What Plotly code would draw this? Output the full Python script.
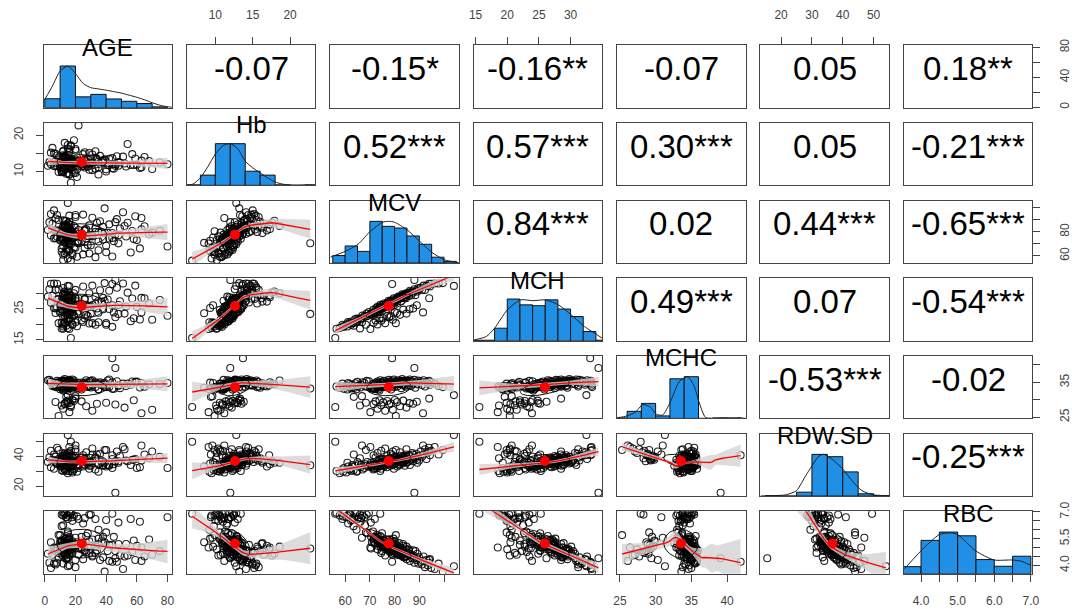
import numpy as np
import plotly.graph_objects as go

VAR_NAMES = ["AGE", "Hb", "MCV", "MCH", "MCHC", "RDW.SD", "RBC"]

# ---- observations (estimated from the scatter panels) ----
AGE = [12, 15, 33, 44, 18, 25, 29, 56, 11, 16, 35, 14, 62, 19, 12, 28, 17, 48, 15, 22, 10, 38, 14, 20, 17,
       14, 11, 40, 16, 13, 24, 12, 58, 17, 15, 31, 19, 46, 13, 70, 18, 7, 27, 15, 52, 16, 34, 14, 63, 20, 9,
       21, 13, 35, 16, 60, 14, 12, 27, 6, 44, 15, 19, 11, 53, 17, 4, 30, 16, 68, 13,
       24, 15, 41, 12, 18, 33, 8, 57, 17, 2, 26, 15, 49, 13, 20, 16, 38, 12, 65, 19,
       14, 29, 17, 42, 5, 15, 54, 3, 16, 36, 13, 12, 9, 47, 7, 31, 20, 59, 16, 8,
       25, 4, 51, 6, 39,
       46, 44, 22, 15,
       14, 11, 17, 9, 15, 13, 19, 16, 12, 8, 18, 14, 10, 15, 13, 17, 7, 16, 12, 14,
       20, 11, 15, 18, 13, 24, 28, 33, 37, 42, 26, 31, 45, 22, 39, 14, 16, 12, 10, 17,
       75, 63, 48, 35, 29, 15, 13, 19, 11, 16,
       21, 13, 40, 16, 26, 12, 80, 18, 30, 15]
Hb = [10.2, 9.5, 10.8, 10.9, 11.2, 11.6, 10.5, 11.8, 9.8, 11.9, 9.2, 12.1, 11.0, 12.4, 11.5, 12.2, 12.8, 12.6, 11.3, 13.0, 12.0, 12.9, 13.4, 9.6, 6.9,
      9.4, 10.1, 10.6, 9.1, 10.9, 11.4, 10.2, 11.8, 11.0, 12.0, 10.4, 12.3, 11.6, 12.5, 10.7, 13.1, 12.8, 11.9, 13.4, 12.2, 13.0, 13.5, 13.8, 11.2, 13.3, 9.9,
      8.5, 10.6, 11.2, 9.3, 11.9, 12.4, 10.9, 12.8, 11.5, 12.1, 11.7, 9.7, 12.6, 11.4, 13.2, 12.0, 13.6, 11.1, 12.9, 14.1,
      12.3, 16.3, 11.8, 14.5, 12.7, 15.6, 12.2, 14.8, 16.9, 11.6, 15.3, 17.3, 12.5, 14.2, 16.2, 13.3, 12.9, 15.7, 14.0, 18.6,
      13.8, 15.1, 17.2, 13.5, 16.5, 14.6, 17.6, 12.6, 16.0, 14.3, 17.9, 15.5, 13.9, 14.2, 14.9, 14.7, 15.8, 13.6, 15.4, 14.4,
      14.8, 15.2, 14.1, 15.0, 13.2,
      12.0, 13.7, 22.7, 12.8,
      12.1, 11.4, 13.0, 12.6, 11.8, 13.5, 12.2, 10.9, 12.9, 11.6, 13.3, 12.4, 11.1, 12.8, 14.0, 12.0, 11.5, 13.6, 12.5, 10.7,
      12.7, 13.1, 11.9, 12.3, 14.3, 12.0, 11.3, 13.8, 12.6, 11.7, 13.2, 12.4, 10.8, 12.9, 13.4, 12.2, 11.2, 13.9, 12.7, 11.0,
      12.5, 13.0, 11.6, 12.8, 12.3, 13.7, 12.1, 11.5, 12.4, 13.1,
      10.6, 11.3, 10.0, 12.3, 11.1, 9.9, 12.0, 10.4, 12.5, 11.7]
MCV = [56.5, 57.8, 58.9, 59.5, 60.5, 61.2, 62.0, 62.8, 63.4, 64.1, 64.6, 65.5, 66.2, 67.0, 68.1, 69.0, 69.6, 70.4, 71.3, 72.0, 72.8, 73.5, 74.2, 66.8, 56.0,
       63.5, 66.0, 68.4, 70.2, 71.5, 72.3, 73.1, 73.9, 74.6, 75.4, 76.2, 77.0, 77.8, 78.5, 79.3, 80.1, 81.0, 82.2, 83.5, 84.8, 86.0, 87.5, 89.0, 91.5, 94.0, 80.5,
       70.8, 71.4, 72.0, 72.6, 73.1, 73.5, 73.9, 74.2, 74.5, 74.8, 74.9, 75.3, 75.7, 76.1, 76.5, 76.9, 77.3, 77.6, 77.9, 78.3,
       78.6, 78.9, 79.2, 79.5, 79.7, 79.9, 80.3, 80.7, 81.1, 81.5, 81.9, 82.3, 82.7, 83.1, 83.4, 83.8, 84.1, 84.4, 84.6, 84.8,
       84.9, 85.3, 85.8, 86.2, 86.7, 87.1, 87.5, 88.0, 88.4, 88.8, 89.2, 89.6, 89.9, 90.5, 91.1, 91.7, 92.3, 92.9, 93.4, 93.9,
       94.3, 94.8, 96.2, 97.8, 99.5,
       88.0, 79.0, 70.5, 104.0,
       76.2, 74.0, 79.5, 81.2, 72.8, 83.0, 77.4, 70.5, 80.6, 75.8, 78.7, 82.4, 73.6, 79.0, 84.7, 76.8, 74.9, 81.8, 78.1, 71.7,
       80.0, 77.7, 83.6, 75.1, 85.9, 78.4, 76.5, 82.9, 79.8, 74.4, 80.9, 77.0, 72.2, 81.5, 79.2, 80.3, 75.6, 84.0, 78.9, 73.3,
       80.8, 82.1, 77.2, 79.6, 76.0, 83.3, 78.8, 75.4, 81.0, 77.9,
       59.2, 61.8, 63.0, 64.9, 66.5, 60.9, 67.8, 62.4, 68.7, 65.0]
MCH = [18.6, 18.8, 19.9, 19.2, 20.0, 20.8, 20.3, 21.0, 20.5, 21.7, 20.7, 21.8, 21.6, 22.9, 22.5, 22.7, 24.0, 23.4, 23.0, 24.2, 23.8, 24.9, 25.3, 20.7, 15.6,
       19.6, 18.7, 19.9, 18.5, 20.5, 21.3, 20.0, 22.0, 21.2, 22.0, 20.4, 22.8, 22.3, 22.7, 21.5, 24.0, 23.7, 23.1, 24.8, 23.5, 24.9, 25.2, 26.2, 23.9, 28.5, 20.4,
       23.6, 24.7, 23.8, 25.3, 25.7, 25.2, 24.1, 26.4, 25.3, 26.2, 25.2, 26.2, 26.8, 25.8, 26.5, 27.0, 25.9, 27.7, 26.8, 27.6,
       25.9, 27.4, 28.1, 27.1, 28.5, 26.8, 28.0, 28.4, 27.4, 29.0, 28.3, 28.8, 27.5, 29.8, 28.5, 29.7, 28.6, 29.6, 28.5, 30.1,
       29.5, 30.1, 29.3, 30.9, 29.4, 30.7, 30.3, 31.4, 29.5, 31.1, 30.7, 31.8, 31.4, 31.9, 31.2, 32.6, 31.2, 32.6, 32.4, 33.2,
       32.3, 33.2, 33.3, 33.3, 33.4,
       34.4, 33.1, 23.4, 32.5,
       25.9, 24.9, 27.3, 28.3, 24.6, 29.3, 26.2, 23.5, 27.8, 25.5, 27.5, 28.6, 24.3, 27.4, 29.9, 26.4, 25.2, 28.9, 26.9, 23.8,
       27.6, 27.0, 28.8, 25.6, 30.4, 26.7, 25.8, 29.0, 27.3, 25.0, 28.1, 26.3, 23.9, 28.4, 27.6, 27.7, 25.6, 29.6, 27.2, 24.5,
       27.9, 28.6, 26.3, 27.6, 25.9, 29.4, 27.0, 25.4, 28.0, 27.1,
       19.4, 20.6, 20.4, 21.9, 22.0, 19.3, 22.8, 19.9, 23.5, 21.2]
MCHC = [33.8, 33.4, 34.6, 33.1, 33.9, 34.8, 33.7, 34.3, 33.3, 34.7, 33.0, 34.1, 33.5, 35.0, 33.8, 33.7, 35.3, 34.0, 33.2, 34.4, 33.6, 34.7, 34.9, 31.0, 27.9,
        30.8, 28.3, 29.1, 26.4, 28.7, 29.5, 27.4, 29.8, 28.4, 29.2, 26.8, 29.6, 28.6, 28.9, 27.1, 29.9, 29.3, 28.1, 29.7, 27.7, 29.0, 28.8, 29.4, 26.1, 30.3, 25.3,
        33.4, 34.6, 33.0, 34.9, 35.2, 34.3, 32.6, 35.6, 34.0, 35.0, 33.7, 34.8, 35.4, 33.9, 34.6, 35.1, 33.5, 35.7, 34.4, 35.3,
        32.9, 34.7, 35.5, 34.1, 35.8, 33.6, 34.9, 35.2, 33.8, 35.6, 34.5, 35.0, 33.3, 35.9, 34.2, 35.4, 34.0, 35.1, 33.7, 35.5,
        34.8, 35.3, 34.1, 35.8, 33.9, 35.2, 34.6, 35.7, 33.4, 35.0, 34.4, 35.5, 34.9, 35.3, 34.2, 35.6, 33.8, 35.1, 34.7, 35.4,
        34.3, 35.0, 34.6, 34.0, 33.6,
        39.1, 41.9, 33.2, 31.3,
        34.0, 33.6, 34.4, 34.9, 33.8, 35.3, 33.9, 33.3, 34.5, 33.7, 34.9, 34.7, 33.0, 34.7, 35.3, 34.4, 33.6, 35.3, 34.4, 33.2,
        34.5, 34.7, 34.4, 34.1, 35.4, 34.1, 33.7, 35.0, 34.2, 33.6, 34.7, 34.2, 33.1, 34.8, 34.8, 34.5, 33.9, 35.2, 34.5, 33.4,
        34.5, 34.8, 34.1, 34.7, 34.1, 35.3, 34.3, 33.7, 34.6, 34.8,
        33.9, 34.5, 33.6, 35.1, 34.2, 32.9, 34.8, 33.2, 35.4, 33.8]
RDW_SD = [30, 28.5, 31, 32, 29, 33, 31.5, 34, 30.5, 33.5, 29.5, 35, 32.5, 31, 34.5, 36, 33, 35.5, 34, 32, 36.5, 34, 30, 47, 49.5,
          41, 38.5, 44, 46, 40.5, 39, 42, 37.5, 43.5, 38, 45, 40, 36.5, 41.5, 43, 39.5, 37, 42.5, 38.5, 44.5, 40, 41, 37.5, 47, 43, 44,
          33, 31, 34.5, 35, 32, 36.5, 33.5, 35.5, 31.5, 38, 34, 36, 33, 37, 34.5, 32.5, 36, 35, 38.5, 33.5,
          37.5, 35.5, 34, 36.5, 31.5, 39, 35, 37.5, 33, 36, 38, 34.5, 40, 35, 36.5, 39.5, 33.5, 37, 41, 35.5,
          38, 36, 40.5, 34, 37.5, 42, 36.5, 39, 38.5, 41.5, 35.5, 40, 37, 43, 39.5, 41, 44.5, 38, 42.5, 45.5,
          40.5, 43.5, 46, 41, 44,
          15.5, 40.5, 33.8, 54.0,
          35.5, 34, 36.5, 38, 33, 37, 35, 32.5, 39, 34.5, 36, 38.5, 33.5, 37.5, 39.5, 35, 36, 34, 38, 31.5,
          36.5, 35.5, 40, 34, 37, 37, 35, 39, 36, 33.5, 38, 36.5, 34.5, 37.5, 35.5, 36, 34, 38.5, 35, 33,
          39.5, 37, 36.5, 34.5, 33.5, 36, 37.5, 35, 38, 34.5,
          29.5, 31, 33, 30, 34, 35.5, 32, 30, 33.5, 36]
RBC = [6.95, 6.8, 6.6, 6.9, 6.7, 6.35, 6.85, 6.6, 6.2, 6.95, 6.0, 6.7, 6.45, 6.8, 6.25, 5.8, 6.95, 6.4, 5.9, 6.6, 5.7, 5.6, 6.9, 5.55, 6.9,
       6.7, 6.85, 5.85, 5.0, 5.3, 5.6, 4.9, 5.4, 4.7, 5.15, 4.55, 5.05, 4.8, 5.2, 4.6, 5.35, 4.95, 4.75, 5.1, 4.5, 4.65, 4.85, 4.4, 4.25, 4.3, 5.7,
       5.3, 5.45, 5.2, 5.5, 5.1, 5.35, 5.25, 5.65, 5.0, 5.15, 5.8, 5.05, 5.4, 5.2, 4.9, 5.3, 5.1, 4.95, 5.45, 4.85,
       5.0, 5.25, 4.8, 5.15, 4.7, 5.05, 4.9, 4.75, 5.1, 4.65, 4.8, 5.0, 4.55, 4.85, 5.2, 4.6, 4.45, 4.95, 4.5, 5.05,
       4.35, 4.7, 4.9, 4.25, 4.6, 4.4, 4.55, 4.15, 4.8, 4.3, 4.65, 4.1, 4.45, 4.2, 4.05, 4.5, 3.9, 4.3, 4.0, 4.15,
       4.35, 3.85, 3.8, 4.1, 3.65,
       4.4, 4.2, 4.95, 3.95,
       5.05, 5.3, 4.85, 4.7, 5.45, 4.6, 5.15, 5.6, 4.9, 5.0, 5.2, 4.55, 5.35, 4.95, 4.65, 5.1, 4.8, 5.25, 4.75, 5.5,
       5.0, 5.3, 4.45, 5.2, 4.8, 4.9, 5.05, 4.7, 5.35, 5.15, 4.85, 5.45, 5.6, 4.6, 5.3, 4.95, 5.4, 4.5, 5.1, 5.25,
       4.8, 5.0, 5.2, 5.5, 5.35, 4.9, 4.65, 5.1, 4.6, 5.45,
       6.75, 6.9, 6.55, 6.95, 6.65, 6.8, 6.7, 6.5, 6.85, 6.6]

# ---- histograms (bin breaks, heights relative to tallest bar) ----
AGE_BREAKS = [0, 10, 20, 30, 40, 50, 60, 70, 80]
AGE_HIST = [0.215, 1.0, 0.26, 0.32, 0.21, 0.154, 0.10, 0.02]
HB_BREAKS = [6, 8, 10, 12, 14, 16, 18, 20, 22, 24]
HB_HIST = [0.012, 0.246, 1.0, 1.0, 0.34, 0.246, 0.012, 0.0, 0.012]
MCV_BREAKS = [55, 60, 65, 70, 75, 80, 85, 90, 95, 100, 105]
MCV_HIST = [0.18, 0.41, 0.28, 1.0, 0.88, 0.84, 0.65, 0.45, 0.14, 0.04]
MCH_BREAKS = [14, 16, 18, 20, 22, 24, 26, 28, 30, 32, 34, 36]
MCH_HIST = [0.012, 0.012, 0.30, 1.0, 0.86, 0.84, 0.98, 0.76, 0.58, 0.22, 0.012]
MCHC_BREAKS = [24, 26, 28, 30, 32, 34, 36, 38, 40, 42]
MCHC_HIST = [0.012, 0.17, 0.36, 0.06, 0.95, 1.0, 0.0, 0.012, 0.012]
RDW_BREAKS = [15, 20, 25, 30, 35, 40, 45, 50, 55]
RDW_HIST = [0.012, 0.0, 0.094, 1.0, 0.945, 0.58, 0.055, 0.012]
RBC_BREAKS = [3.5, 4.0, 4.5, 5.0, 5.5, 6.0, 6.5, 7.0]
RBC_HIST = [0.17, 0.80, 1.0, 0.91, 0.34, 0.18, 0.42]

# ---- density curves (relative to peak) ----
AGE_DX = [0, 5, 10, 15, 20, 25, 30, 35, 40, 45, 50, 55, 60, 65, 70, 75, 80, 83]
AGE_DY = [0.2, 0.52, 0.88, 1.0, 0.82, 0.58, 0.48, 0.45, 0.42, 0.385, 0.35, 0.3, 0.25, 0.19, 0.12, 0.06, 0.02, 0.01]
HB_DX = [6.2, 7, 8, 9, 10, 11, 12, 13, 14, 15, 16, 17, 18, 19, 20, 21, 22, 23, 23.4]
HB_DY = [0.0, 0.03, 0.18, 0.45, 0.75, 0.95, 1.0, 0.88, 0.58, 0.42, 0.3, 0.18, 0.08, 0.03, 0.01, 0.005, 0.01, 0.005, 0.0]
MCV_DX = [54, 60, 65.2, 70.3, 75.2, 77.5, 80, 85, 90, 95, 100, 104.7, 106]
MCV_DY = [0.14, 0.28, 0.45, 0.77, 0.98, 1.0, 0.98, 0.8, 0.53, 0.26, 0.08, 0.02, 0.01]
MCH_DX = [14.8, 16.7, 18.0, 20.0, 22.1, 24.1, 26.1, 28.1, 30.1, 32.2, 34.2, 35.0]
MCH_DY = [0.02, 0.1, 0.3, 0.74, 0.98, 0.96, 0.98, 0.86, 0.62, 0.34, 0.14, 0.06]
MCHC_DX = [24.6, 26.0, 27.1, 28.2, 29.2, 30.1, 31.0, 32.0, 33.3, 34.5, 35.4, 36.1, 37.0, 38.5, 39.5, 40.5, 42.0, 42.6]
MCHC_DY = [0.01, 0.06, 0.14, 0.33, 0.28, 0.10, 0.08, 0.37, 0.88, 1.0, 0.77, 0.38, 0.02, 0.0, 0.01, 0.0, 0.01, 0.0]
RDW_DX = [13.3, 15.5, 17.3, 21.6, 25.0, 28.0, 32.3, 33.9, 36.6, 40.0, 43.0, 46.2, 49.9, 53.5, 55.0]
RDW_DY = [0.0, 0.01, 0.01, 0.03, 0.13, 0.49, 0.96, 1.0, 0.88, 0.65, 0.37, 0.13, 0.03, 0.01, 0.0]
RBC_DX = [3.55, 4.0, 4.5, 4.81, 5.0, 5.49, 5.99, 6.49, 6.74, 7.0]
RBC_DY = [0.12, 0.55, 0.94, 0.98, 0.94, 0.55, 0.33, 0.33, 0.30, 0.2]

# ---- correlation labels (upper triangle, row by row) ----
CORR_LABELS = ["-0.07", "-0.15*", "-0.16**", "-0.07", "0.05", "0.18**",
               "0.52***", "0.57***", "0.30***", "0.05", "-0.21***",
               "0.84***", "0.02", "0.44***", "-0.65***",
               "0.49***", "0.07", "-0.54***",
               "-0.53***", "-0.02",
               "-0.25***"]

# ---- axis ranges and ticks ----
RANGES = [[-0.8, 83.0], [6.2, 23.4], [54.0, 106.0], [14.7, 35.0], [24.6, 42.6], [13.3, 55.0], [3.53, 7.04]]
AGE_TICKS = [0, 20, 40, 60, 80]
HB_TICKS = [10, 15, 20]
MCV_TICKS = [60, 70, 80, 90, 100]
MCH_TICKS = [15, 20, 25, 30]
MCHC_TICKS = [25, 30, 35, 40]
RDW_TICKS = [20, 30, 40, 50]
RBC_TICKS = [4.0, 4.5, 5.0, 5.5, 6.0, 6.5, 7.0]

TICKS_BOTTOM = {0: (AGE_TICKS, ["0", "20", "40", "60", "80"]),
                2: (MCV_TICKS, ["60", "70", "80", "90", ""]),
                4: (MCHC_TICKS, ["25", "30", "35", "40"]),
                6: (RBC_TICKS, ["4.0", "", "5.0", "", "6.0", "", "7.0"])}
TICKS_TOP = {1: (HB_TICKS, ["10", "15", "20"]),
             3: (MCH_TICKS, ["15", "20", "25", "30"]),
             5: (RDW_TICKS, ["20", "30", "40", "50"])}
TICKS_LEFT = {1: (HB_TICKS, ["10", "", "20"]),
              3: (MCH_TICKS, ["15", "", "25", ""]),
              5: (RDW_TICKS, ["20", "", "40", ""])}
TICKS_RIGHT = {0: (AGE_TICKS, ["0", "", "40", "", "80"]),
               2: (MCV_TICKS, ["60", "", "80", "", ""]),
               4: (MCHC_TICKS, ["25", "", "35", ""]),
               6: (RBC_TICKS, ["4.0", "", "", "5.5", "", "", "7.0"])}

DATA = [np.array(v, dtype=float) for v in (AGE, Hb, MCV, MCH, MCHC, RDW_SD, RBC)]
for arr in DATA:
    assert len(arr) == len(DATA[0]), [len(a) for a in DATA]
HISTS = [(AGE_BREAKS, AGE_HIST), (HB_BREAKS, HB_HIST), (MCV_BREAKS, MCV_HIST), (MCH_BREAKS, MCH_HIST),
         (MCHC_BREAKS, MCHC_HIST), (RDW_BREAKS, RDW_HIST), (RBC_BREAKS, RBC_HIST)]
DENS = [(AGE_DX, AGE_DY), (HB_DX, HB_DY), (MCV_DX, MCV_DY), (MCH_DX, MCH_DY),
        (MCHC_DX, MCHC_DY), (RDW_DX, RDW_DY), (RBC_DX, RBC_DY)]

W, H = 1072, 609
PL = [39 + 145 * k for k in range(7)]
PT = [36 + 79.5 * k for k in range(7)]
PW, PH = 130, 64
FONT = "Liberation Sans, Arial, sans-serif"
LINE_COLOR = "#444444"
HIST_COLOR = "#2090E6"
TICK_FONT = dict(family=FONT, size=12, color="#444444")


def loess(x, y, span=0.75, iters=4, n_out=47):
    n = len(x)
    q = int(np.floor(n * span))
    xo = np.linspace(x.min(), x.max(), n_out)

    def weights_row(x0, rw):
        d = np.abs(x - x0)
        h = max(np.sort(d)[q - 1], 1e-9)
        u = d / h
        w = np.where(u < 1, (1 - u ** 3) ** 3, 0.0) * rw
        X = np.column_stack([np.ones(n), x - x0])
        XtW = X.T * w
        A = XtW @ X + 1e-10 * np.eye(2)
        return np.linalg.solve(A, XtW)[0]

    rw = np.ones(n)
    for _ in range(iters):
        fitted = np.array([weights_row(xi, rw) @ y for xi in x])
        res = y - fitted
        s = np.median(np.abs(res)) + 1e-12
        u = res / (6 * s)
        rw = np.where(np.abs(u) < 1, (1 - u ** 2) ** 2, 0.0)
    Ls = np.array([weights_row(x0, rw) for x0 in xo])
    fit = Ls @ y
    fitted = np.array([weights_row(xi, rw) @ y for xi in x])
    sigma = np.sqrt(np.sum((y - fitted) ** 2) / (n - 4))
    se = sigma * np.sqrt(np.sum(Ls ** 2, axis=1))
    return xo, fit, se


def axref(k):
    return ("x" if k == 1 else f"x{k}"), ("y" if k == 1 else f"y{k}")


fig = go.Figure()
layout = {}
annotations = []

for i in range(7):
    for j in range(7):
        k = i * 7 + j + 1
        xr, yr = axref(k)
        x0 = PL[j] / W
        x1 = (PL[j] + PW) / W
        y1 = 1 - PT[i] / H
        y0 = 1 - (PT[i] + PH) / H
        xa = dict(domain=[x0, x1], anchor=yr, range=RANGES[j], showline=True, mirror=True,
                  linecolor=LINE_COLOR, linewidth=1, showgrid=False, zeroline=False,
                  ticks="", showticklabels=False, fixedrange=True)
        yrange = [0, 1.5] if i == j else RANGES[i]
        ya = dict(domain=[y0, y1], anchor=xr, range=yrange, showline=True, mirror=True,
                  linecolor=LINE_COLOR, linewidth=1, showgrid=False, zeroline=False,
                  ticks="", showticklabels=False, fixedrange=True)
        tick_style = dict(ticks="outside", ticklen=7, tickwidth=1, tickcolor=LINE_COLOR,
                          tickmode="array", showticklabels=True, tickfont=TICK_FONT)
        if i == 6 and j in TICKS_BOTTOM:
            tv, tt = TICKS_BOTTOM[j]
            xa.update(tick_style, tickvals=tv, ticktext=tt, side="bottom", ticklabelstandoff=9)
        if i == 0 and j in TICKS_TOP:
            tv, tt = TICKS_TOP[j]
            xa.update(tick_style, tickvals=tv, ticktext=tt, side="top", ticklabelstandoff=13)
        if j == 0 and i in TICKS_LEFT:
            tv, tt = TICKS_LEFT[i]
            ya.update(tick_style, tickvals=tv, ticktext=tt, side="left", tickangle=-90, ticklabelstandoff=8)
        if j == 6 and i in TICKS_RIGHT and i != 6:
            tv, tt = TICKS_RIGHT[i]
            ya.update(tick_style, tickvals=tv, ticktext=tt, side="right", tickangle=-90, ticklabelstandoff=14)
        layout["xaxis" if k == 1 else f"xaxis{k}"] = xa
        layout["yaxis" if k == 1 else f"yaxis{k}"] = ya

        if i == j:
            br, hh = HISTS[i]
            br = np.array(br, dtype=float)
            centers = (br[:-1] + br[1:]) / 2
            widths = br[1:] - br[:-1]
            fig.add_trace(go.Bar(x=centers, y=hh, width=widths, xaxis=xr, yaxis=yr,
                                 marker=dict(color=HIST_COLOR, line=dict(color="#111111", width=1)),
                                 hoverinfo="skip"))
            dx, dy = DENS[i]
            fig.add_trace(go.Scatter(x=dx, y=dy, mode="lines", xaxis=xr, yaxis=yr,
                                     line=dict(color="#222222", width=1, shape="spline", smoothing=0.6),
                                     hoverinfo="skip"))
            annotations.append(dict(x=(PL[j] + PW / 2) / W, y=1 - (PT[i] + 2) / H, xref="paper", yref="paper",
                                    text=VAR_NAMES[i], showarrow=False, xanchor="center", yanchor="middle",
                                    font=dict(family=FONT, size=24, color="black")))
        elif i > j:
            x = DATA[j]
            y = DATA[i]
            fig.add_trace(go.Scatter(x=x, y=y, mode="markers", xaxis=xr, yaxis=yr,
                                     marker=dict(symbol="circle-open", size=7, color="rgba(0,0,0,0.85)",
                                                 line=dict(width=1.1)),
                                     hoverinfo="skip"))
            xo, fit, se = loess(x, y)
            conf = 1.97
            lo = fit - conf * se
            hi = fit + conf * se
            fig.add_trace(go.Scatter(x=np.concatenate([xo, xo[::-1]]), y=np.concatenate([lo, hi[::-1]]),
                                     mode="lines", fill="toself", fillcolor="rgba(211,211,211,0.8)",
                                     line=dict(width=0, color="rgba(0,0,0,0)"), xaxis=xr, yaxis=yr,
                                     hoverinfo="skip"))
            xm, ym = x.mean(), y.mean()
            xs, ys = x.std(ddof=1), y.std(ddof=1)
            r = np.corrcoef(x, y)[0, 1]
            theta = np.sign(r) / np.sqrt(2) if abs(r) > 0 else 1 / np.sqrt(2)
            ang = np.arange(52) * 2 * np.pi / 51
            a, b = np.sqrt(1 + r), np.sqrt(1 - r)
            ex = (np.cos(ang) * a * theta - np.sin(ang) * b * theta) * xs + xm
            ey = (np.cos(ang) * a * theta + np.sin(ang) * b * theta) * ys + ym
            fig.add_trace(go.Scatter(x=ex, y=ey, mode="lines", xaxis=xr, yaxis=yr,
                                     line=dict(color="#111111", width=1), hoverinfo="skip"))
            fig.add_trace(go.Scatter(x=xo, y=fit, mode="lines", xaxis=xr, yaxis=yr,
                                     line=dict(color="#FF0000", width=1.3), hoverinfo="skip"))
            fig.add_trace(go.Scatter(x=[xm], y=[ym], mode="markers", xaxis=xr, yaxis=yr,
                                     marker=dict(color="#FF0000", size=10), hoverinfo="skip"))
        else:
            fig.add_trace(go.Scatter(x=[np.mean(RANGES[j])], y=[np.mean(RANGES[i])], mode="markers",
                                     xaxis=xr, yaxis=yr, marker=dict(opacity=0), hoverinfo="skip"))
            idx = sum(6 - t for t in range(i)) + (j - i - 1)
            annotations.append(dict(x=(PL[j] + PW / 2) / W, y=1 - (PT[i] + PH / 2 - 8) / H,
                                    xref="paper", yref="paper", text=CORR_LABELS[idx], showarrow=False,
                                    xanchor="center", yanchor="middle",
                                    font=dict(family=FONT, size=33, color="black")))

# right-hand RBC axis for the last diagonal panel
tv, tt = TICKS_RIGHT[6]
layout["yaxis50"] = dict(overlaying="y49", anchor="x49", side="right", range=RANGES[6],
                         showline=False, showgrid=False, zeroline=False, ticks="outside", ticklen=7,
                         tickwidth=1, tickcolor=LINE_COLOR, tickmode="array", tickvals=tv, ticktext=tt,
                         tickangle=-90, tickfont=TICK_FONT, ticklabelstandoff=14, fixedrange=True)
fig.add_trace(go.Scatter(x=[5.0], y=[5.0], xaxis="x49", yaxis="y50", mode="markers",
                         marker=dict(opacity=0), hoverinfo="skip"))

fig.update_layout(**layout)
fig.update_layout(width=W, height=H, margin=dict(l=0, r=0, t=0, b=0), showlegend=False,
                  plot_bgcolor="white", paper_bgcolor="white", annotations=annotations,
                  font=dict(family=FONT), barmode="overlay")
fig.write_html("out.html")
